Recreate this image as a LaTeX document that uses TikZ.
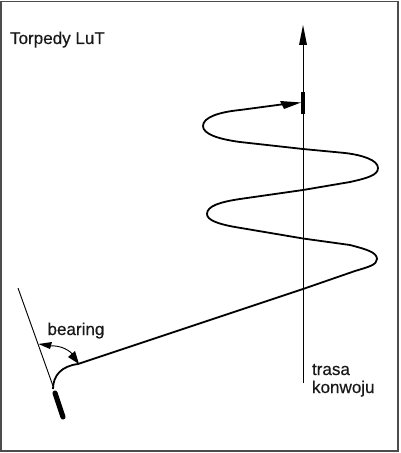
\documentclass[tikz,border=0pt]{standalone}
\usepackage{fontspec}
\setmainfont[FakeBold=0.4]{Liberation Sans}
\usetikzlibrary{arrows.meta}
\tikzset{
  labeltext/.style={inner sep=0pt,outer sep=0pt,anchor=base west,font=\fontsize{12.8pt}{15pt}\selectfont,text=black!90},
  frameline/.style={draw=black!70,line width=1.1pt},
  thinline/.style={draw=black,line width=0.7pt},
  runline/.style={draw=black,line width=1.35pt,line join=round},
  boat/.style={draw=black,line width=3.6pt},
  head/.style={fill=black,draw=none}
}
\begin{document}
\begin{tikzpicture}[x=0.75pt,y=-0.75pt]
\useasboundingbox (0,0) rectangle (400,453);
\fill[white] (0,0) rectangle (400,453);
\draw[frameline] (1,1.5) rectangle (398,451);
\node[labeltext] (title) at (10,44) {Torpedy LuT};
\node[labeltext] (brg) at (47.5,335) {bearing};
\node[labeltext] (t1) at (312,375) {trasa};
\node[labeltext] (t2) at (312,393) {konwoju};
% convoy track
\coordinate (trackS) at (303,383);
\coordinate (trackN) at (303,40);
\draw[thinline] (trackS) -- (trackN);
\fill[head] (303,25) -- (307,45) -- (299,45) -- cycle;
% target ship
\coordinate (shipA) at (303,92);
\coordinate (shipB) at (303,114);
\draw[boat] (shipA) -- (shipB);
% torpedo run
\draw[runline] (53,389) .. controls (53,375) and (62,366) .. (78,364)
  -- (303,289) -- (355,271)
  .. controls (368,267) and (377,265) .. (377,259)
  .. controls (377,252) and (365,249) .. (350,245)
  -- (303,238.5) -- (235,227)
  .. controls (218,224) and (207,220) .. (207,214)
  .. controls (207,206) and (220,202) .. (240,199)
  -- (303,190) -- (350,182)
  .. controls (368,178) and (378,175) .. (378,168)
  .. controls (378,160) and (362,155) .. (345,153)
  -- (303,149) -- (240,142)
  .. controls (218,139) and (203,134) .. (203,126)
  .. controls (203,117) and (220,112) .. (240,110)
  -- (285,104);
\fill[head] (301,102.5) -- (280,101) -- (284,109) -- cycle;
% bearing
\coordinate (refA) at (18,288);
\coordinate (refB) at (53,386);
\draw[thinline] (refA) -- (refB);
\coordinate (torpA) at (55,393);
\coordinate (torpB) at (63,417);
\draw[draw=black,line width=3.8pt,line cap=round] (torpA) -- (torpB);
% angle arc
\draw[thinline] (50,346) .. controls (60,345) and (70,350) .. (74,356);
\fill[head] (38.5,344) -- (52,342) -- (50,349) -- cycle;
\fill[head] (79,364) -- (68,357) -- (75,351) -- cycle;
\end{tikzpicture}
\end{document}
